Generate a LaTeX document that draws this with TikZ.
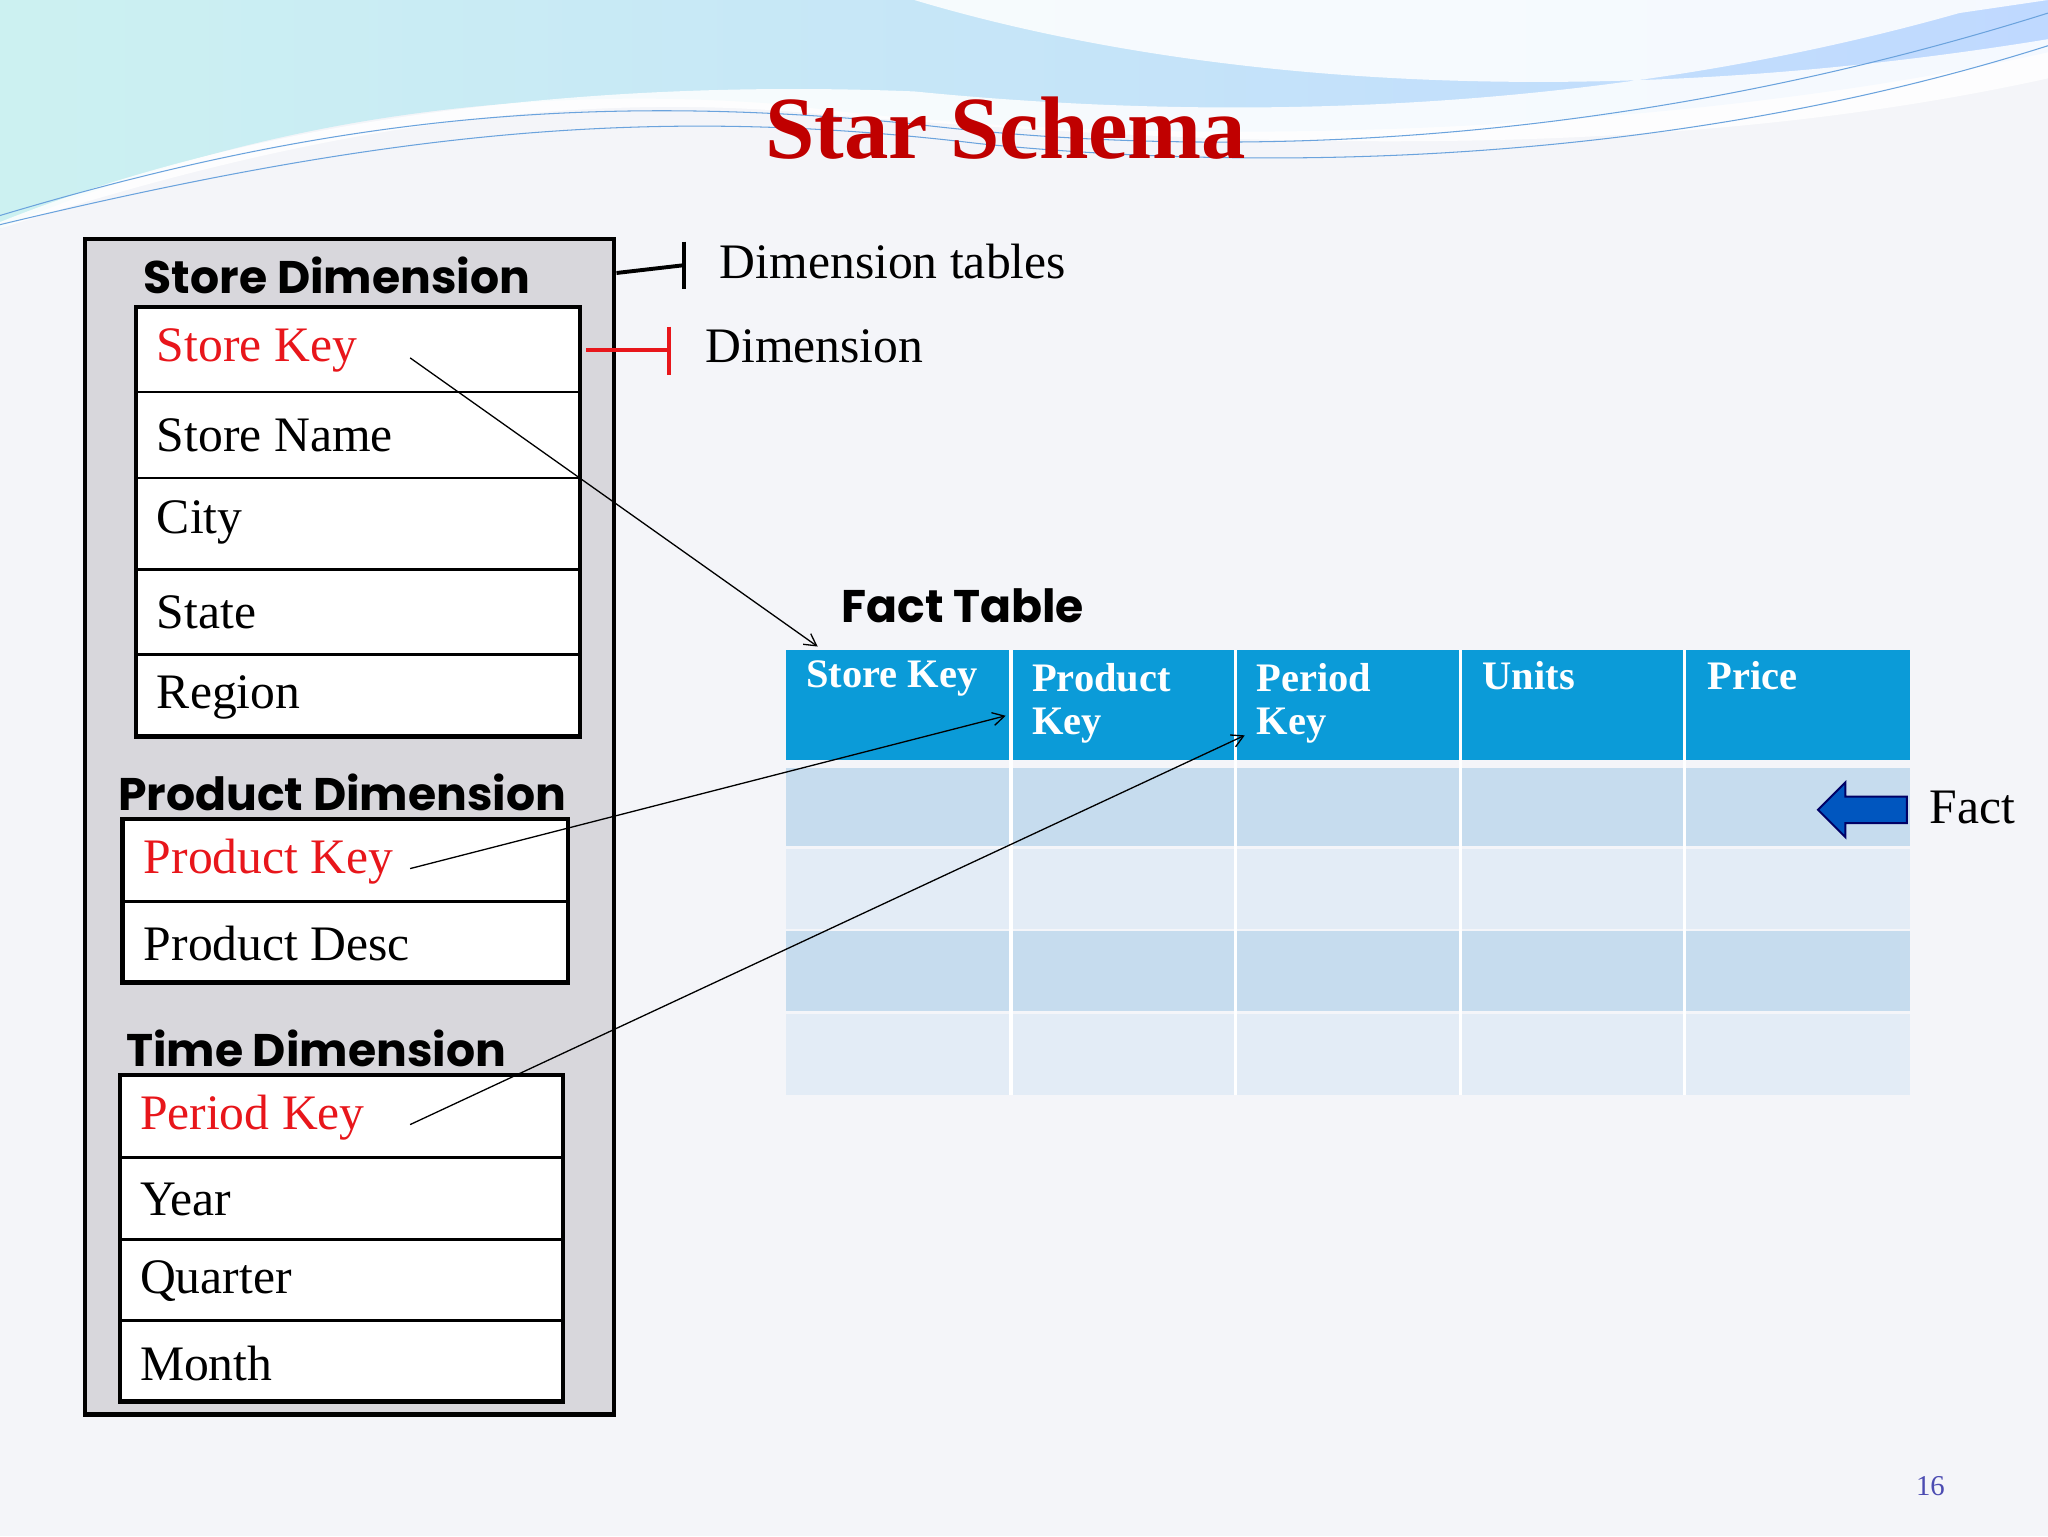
\documentclass[tikz,border=0pt]{standalone}
\usepackage{fontspec}
\setmainfont{Liberation Serif}
\newfontfamily\hdr{Poppins}
\usetikzlibrary{arrows.meta,shapes.arrows}
\definecolor{bg}{HTML}{F4F5F9}
\definecolor{boxgray}{HTML}{D8D7DC}
\definecolor{hblue}{HTML}{0B9BD8}
\definecolor{rowA}{HTML}{C6DCEE}
\definecolor{rowB}{HTML}{E3ECF6}
\definecolor{keyred}{HTML}{E8161B}
\definecolor{titlered}{HTML}{C00000}
\tikzset{
  cell/.style={draw=black,line width=2.2pt,minimum width=#1,anchor=north west,inner sep=0pt},
  fld/.style={font=\fontsize{38}{42}\selectfont,anchor=west,inner sep=0pt},
  keyfld/.style={fld,text=keyred},
  dimlbl/.style={font=\hdr\bfseries\fontsize{35}{38}\selectfont,inner sep=0pt},
  htxt/.style={font=\bfseries\fontsize{31}{33}\selectfont,text=white,anchor=north west,align=left,inner sep=0pt},
  link/.style={-{Straight Barb[length=9pt,width=10pt]},line width=1pt}
}
\begin{document}
\begin{tikzpicture}[x=1pt,y=-1pt]
\useasboundingbox (0,0) rectangle (1568,1176);
\fill[bg] (0,0) rectangle (1568,1176);
% top wave
\shade[left color=cyan!45!teal!20!white,right color=cyan!40!blue!25!white] (0,0) -- (1568,0) -- (1568,40) .. controls (1300,100) and (900,120) .. (600,80) .. controls (350,60) and (150,110) .. (0,175) -- cycle;
\fill[white,opacity=0.85] (700,0) .. controls (900,60) and (1200,90) .. (1568,30) -- (1568,60) .. controls (1250,130) and (900,110) .. (600,85) .. controls (400,70) and (200,110) .. (0,175) -- (0,170) .. controls (200,90) and (450,60) .. (700,70) .. controls (900,90) and (1200,95) .. (1500,10) -- (1568,0) -- cycle;
\draw[cyan!60!blue!60,line width=0.8pt] (0,165) .. controls (250,90) and (450,70) .. (700,95) .. controls (950,125) and (1250,110) .. (1568,10);
\draw[cyan!60!blue!60,line width=0.8pt] (0,172) .. controls (300,100) and (500,80) .. (750,110) .. controls (1000,135) and (1300,120) .. (1568,35);
\node[font=\bfseries\fontsize{68}{72}\selectfont,text=titlered] (title) at (770,98) {Star Schema};
% outer box
\draw[fill=boxgray,line width=3.5pt] (65,183) rectangle (470,1083);
\node[dimlbl] (sd) at (258,211) {Store Dimension};
\node[dimlbl] (pd) at (262,607) {Product Dimension};
\node[dimlbl] (td) at (242,803) {Time Dimension};
% store table
\draw[fill=white,line width=3.5pt] (104,235) rectangle (444,564);
\foreach \y in {300,366,436,501} \draw[line width=2pt] (104,\y) -- (444,\y);
\node[keyfld] (ssk) at (120,268) {Store Key};
\node[fld] (ssn) at (120,333) {Store Name};
\node[fld] (sc) at (120,400) {City};
\node[fld] (sst) at (120,469) {State};
\node[fld] (sr) at (120,534) {Region};
% product table
\draw[fill=white,line width=3.5pt] (94,627) rectangle (435,752);
\draw[line width=2pt] (94,690) -- (435,690);
\node[keyfld] (ppk) at (110,660) {Product Key};
\node[fld] (ppd) at (110,722) {Product Desc};
% time table
\draw[fill=white,line width=3.5pt] (92,823) rectangle (431,1073);
\foreach \y in {886,949,1011} \draw[line width=2pt] (92,\y) -- (431,\y);
\node[keyfld] (tpk) at (107,856) {Period Key};
\node[fld] (ty) at (107,918) {Year};
\node[fld] (tq) at (107,981) {Quarter};
\node[fld] (tm) at (107,1044) {Month};
% brackets
\draw[line width=3pt] (472,209) -- (524,203);
\draw[line width=3pt] (524,185) -- (524,221);
\node[fld] (dt) at (551,200) {Dimension tables};
\draw[keyred,line width=3pt] (449,268) -- (512,268);
\draw[keyred,line width=3pt] (512,250) -- (512,287);
\node[fld] (dm) at (540,265) {Dimension};
% fact table
\node[dimlbl,anchor=west] (ft) at (644,464) {Fact Table};
\fill[hblue] (602,498) rectangle (1462,582);
\foreach \y/\h/\c in {588/648/rowA,650/711/rowB,713/774/rowA,776/838/rowB}
  \fill[\c] (602,\y) rectangle (1462,\h);
\foreach \x in {774,946,1118,1290} \fill[white] (\x-1.2,498) rectangle (\x+1.2,838);
\node[htxt] (h1) at (617,506) {Store Key};
\node[htxt] (h2) at (790,508) {Product\\Key};
\node[htxt] (h3) at (962,508) {Period\\Key};
\node[htxt] (h4) at (1135,506) {Units};
\node[htxt] (h5) at (1307,506) {Price};
\coordinate (e1) at (626,495);
\coordinate (e2) at (770,548);
\coordinate (e3) at (953,563);
\coordinate (s1) at (314,274);
\coordinate (s2) at (314,665);
\coordinate (s3) at (314,861);
\draw[link] (s1) -- (e1);
\draw[link] (s2) -- (e2);
\draw[link] (s3) -- (e3);
% fact arrow
\node[single arrow,shape border rotate=180,fill=blue!55!cyan!75!black,draw=blue!40!black,line width=1.5pt,minimum height=68pt,minimum width=42pt,single arrow head extend=4pt,inner sep=3pt] (fa) at (1431,620) {};
\node[fld] (fact) at (1477,618) {Fact};
\node[font=\fontsize{22}{24}\selectfont,text=blue!40!gray] (pg) at (1478,1138) {16};
\end{tikzpicture}
\end{document}
